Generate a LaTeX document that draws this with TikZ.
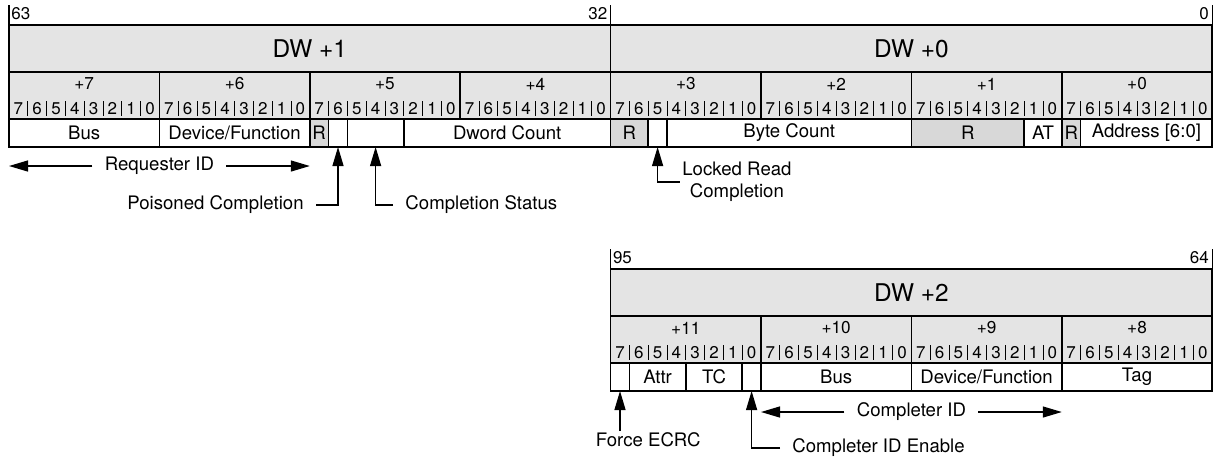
\documentclass[tikz,border=0pt]{standalone}
\usepackage{fontspec}
\setmainfont{TeX Gyre Heros}
\usetikzlibrary{arrows.meta}
\definecolor{hdrgray}{HTML}{E4E4E4}
\definecolor{rsvgray}{HTML}{D8D8D8}

\begin{document}
\begin{tikzpicture}[x=9.4pt, y=-0.5pt, >={Triangle[length=9.5pt,width=5.5pt]},
	box/.style={draw, line width=0.85pt, inner sep=0pt, outer sep=0pt},
	dwbox/.style={box, fill=hdrgray, minimum width=300.8pt, minimum height=23.5pt, font=\fontsize{12.2}{14}\selectfont},
	bytebox/.style={box, fill=hdrgray, minimum width=75.2pt, minimum height=23.5pt},
	field/.style={box, fill=white, minimum height=14pt, font=\fontsize{9.3}{11}\selectfont},
	rsv/.style={field, fill=rsvgray},
	hdr/.style={inner sep=0pt, font=\fontsize{8.6}{10}\selectfont},
	bitnum/.style={inner sep=0pt, font=\fontsize{8.5}{10}\selectfont},
	bitsep/.style={line width=0.4pt},
	tick/.style={line width=0.6pt},
	bitpos/.style={inner sep=0pt, font=\fontsize{8.5}{10}\selectfont},
	lbl/.style={inner xsep=6pt, inner ysep=1pt, font=\fontsize{9.3}{11}\selectfont},
	conn/.style={->, line width=0.65pt}]
	\useasboundingbox (-0.4787,0) rectangle (64.3617,457);
	% dword rows
	\node[dwbox] (dw1) at (16,48.5) {DW +1};
	\node[dwbox] (dw0) at (48,48.5) {DW +0};
	\node[dwbox] (dw2) at (48,292.5) {DW +2};
	% byte headers and bit numbers
	\foreach \klo/\dy/\base in {0/0/7, 4/244/15} {
		\foreach \k in {\klo,...,7} {
			\pgfmathtruncatemacro\byteno{\base-\k}
			\node[bytebox] (byte\byteno) at ({8*\k+4},{95.5+\dy}) {};
			\node[hdr] (plus\byteno) at ({8*\k+4},{84+\dy}) {+\byteno};
			\foreach \i in {0,...,7} {
				\pgfmathtruncatemacro\bit{7-\i}
				\node[bitnum] (b\byteno-\bit) at ({8*\k+\i+0.5},{108.5+\dy}) {\bit};
			}
			\foreach \i in {1,...,7}
				\draw[bitsep] ({8*\k+\i},{101+\dy}) -- ++(0,15);
		}
	}
	% fields
	\foreach \a/\b/\y/\n/\s/\t in {0/8/133/bus/field/Bus, 8/16/133/devfn/field/{Device/Function},
		16/17/133/rsv1/rsv/R, 17/18/133/ep/field/{}, 18/21/133/cst/field/{}, 21/32/133/dwc/field/Dword Count,
		32/34/133/rsv2/rsv/R, 34/35/133/lck/field/{}, 35/48/133/bc/field/Byte Count,
		48/54/133/rsv3/rsv/R, 54/56/133/at/field/AT, 56/57/133/rsv4/rsv/R, 57/64/133/addr/field/{Address [6:0]},
		32/33/377/fe/field/{}, 33/36/377/attr/field/Attr, 36/39/377/tc/field/TC, 39/40/377/idenf/field/{},
		40/48/377/bus2/field/Bus, 48/56/377/devfn2/field/{Device/Function}, 56/64/377/tag/field/Tag}
		\node[\s, minimum width={(\b-\a)*9.4pt}] (\n) at ({(\a+\b)/2},\y) {\t};
	% bit positions
	\draw[tick] (dw1.north west) -- ++(0,-20);
	\draw[tick] (dw1.north east) -- ++(0,-20);
	\draw[tick] (dw0.north east) -- ++(0,-20);
	\draw[tick] (dw2.north west) -- ++(0,-20);
	\draw[tick] (dw2.north east) -- ++(0,-20);
	\node[bitpos, anchor=south west] (p63) at ([xshift=1pt,yshift=2.5pt]dw1.north west) {63};
	\node[bitpos, anchor=south east] (p32) at ([xshift=-1.5pt,yshift=2.5pt]dw1.north east) {32};
	\node[bitpos, anchor=south east] (p0) at ([xshift=-1.5pt,yshift=2.5pt]dw0.north east) {0};
	\node[bitpos, anchor=south west] (p95) at ([xshift=1pt,yshift=2.5pt]dw2.north west) {95};
	\node[bitpos, anchor=south east] (p64) at ([xshift=-1.5pt,yshift=2.5pt]dw2.north east) {64};
	% callouts
	\node[lbl] (reqid) at (8,166) {Requester ID};
	\draw[conn] (reqid.west) -- (bus.south west |- reqid.west);
	\draw[conn] (reqid.east) -- (devfn.south east |- reqid.east);
	\node[lbl, anchor=east] (poison) at (16.33,205) {Poisoned Completion};
	\draw[conn] (poison.east) -| (ep.south);
	\node[lbl, anchor=west] (cstat) at (20.43,205) {Completion Status};
	\draw[conn] (cstat.west) -| (cst.south);
	\node[lbl, anchor=west, inner xsep=1pt, align=center] (lrc) at (35.69,182) {Locked Read\\Completion};
	\draw[conn] (lrc.west) -| (lck.south);
	\node[lbl] (cplid) at (48,412) {Completer ID};
	\draw[conn] (cplid.west) -- (bus2.south west |- cplid.west);
	\draw[conn] (cplid.east) -- (devfn2.south east |- cplid.east);
	\node[lbl] (fecrc) at (34.0,440) {Force ECRC};
	\draw[conn] (fe.south |- fecrc.north) -- (fe.south);
	\node[lbl, anchor=west] (cidelbl) at (41.01,448) {Completer ID Enable};
	\draw[conn] (cidelbl.west) -| (idenf.south);
\end{tikzpicture}
\end{document}
